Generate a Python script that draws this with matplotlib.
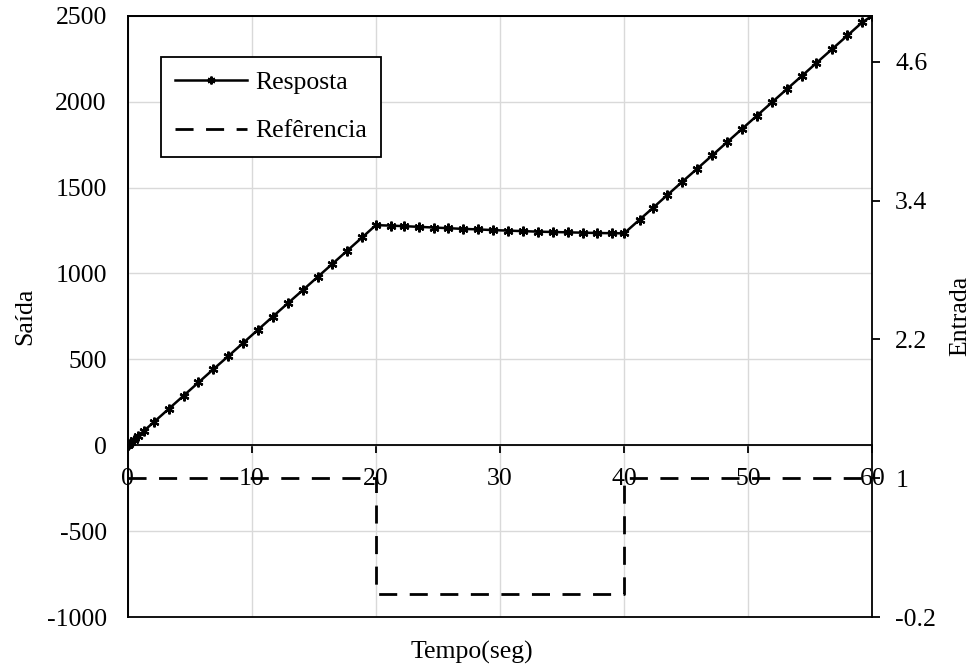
import matplotlib
matplotlib.use("Agg")
import matplotlib.pyplot as plt
from matplotlib.ticker import FuncFormatter

plt.rcParams['font.family'] = ['Liberation Serif', 'DejaVu Serif']
plt.rcParams['font.size'] = 18.5
plt.rcParams['axes.unicode_minus'] = False

# response (left axis)
t_resp = [0, 0.03, 0.1, 0.25, 0.5, 0.8, 1.3, 2.1, 3.3, 4.5, 5.7, 6.9, 8.1, 9.3,
          10.5, 11.7, 12.9, 14.1, 15.3, 16.5, 17.7, 18.9,
          20.0, 21.2, 22.25, 23.45, 24.65, 25.85, 27.05, 28.25, 29.45, 30.65,
          31.85, 33.05, 34.25, 35.45, 36.65, 37.85, 39.05,
          40.0, 41.25, 42.35, 43.45, 44.65, 45.85, 47.1, 48.3, 49.5, 50.7,
          51.9, 53.15, 54.3, 55.5, 56.75, 58.0, 59.2, 60.0]
resposta = [0, 2, 6, 16, 32, 51, 83, 134, 211, 288, 365, 442, 518, 595,
            672, 749, 826, 902, 979, 1056, 1133, 1210,
            1281, 1278, 1275, 1271, 1267, 1263, 1259, 1256, 1252, 1249,
            1246, 1243, 1241, 1239, 1237, 1235, 1234,
            1233, 1313, 1383, 1454, 1531, 1607, 1687, 1764, 1841, 1918,
            1995, 2075, 2148, 2225, 2305, 2385, 2462, 2500]

# reference (right axis)
t_ref = [0, 20, 20, 40, 40, 60]
referencia = [1, 1, 0, 0, 1, 1]

xticks = [0, 10, 20, 30, 40, 50, 60]
yticks_left = [-1000, -500, 0, 500, 1000, 1500, 2000, 2500]
yticks_right = [-0.2, 1, 2.2, 3.4, 4.6]

fig = plt.figure(figsize=(9.76, 6.70), dpi=100)
ax = fig.add_axes([127.7/976, 1-617/670, (872.3-127.7)/976, (617-15.7)/670])
ax2 = ax.twinx()

grid_c = '#d9d9d9'
ax.set_axisbelow(True)
ax.grid(True, color=grid_c, lw=1.0)

ax.plot(t_resp, resposta, color='black', lw=1.8, marker=(6, 2, 0),
        markersize=7, markeredgewidth=1.6, label='Resposta', clip_on=True)
ax2.plot(t_ref, referencia, color='black', lw=2.0, dashes=(6.5, 4.5),
         label='Refêrencia')

ax.set_xlim(0, 60)
ax.set_ylim(-1000, 2500)
ax2.set_ylim(-0.2, 5.0)
ax.set_xticks(xticks)
ax.set_yticks(yticks_left)
ax2.set_yticks(yticks_right)
ax2.yaxis.set_major_formatter(FuncFormatter(lambda v, p: '{:g}'.format(round(v, 2))))

for s in ['left', 'right', 'top', 'bottom']:
    ax.spines[s].set_linewidth(1.3)
    ax2.spines[s].set_linewidth(1.3)
ax.spines['bottom'].set_position(('data', 0))
ax.spines['right'].set_visible(False)

ax.tick_params(axis='x', direction='out', length=5.5, width=1.3, pad=11)
ax.tick_params(axis='y', length=0, pad=15)
ax2.tick_params(axis='y', direction='out', length=5.5, width=1.3, pad=11)

ax.set_ylabel('Saída', va='center')
ax.yaxis.set_label_coords((25 - 127.7) / 744.6, 0.5)
ax2.set_ylabel('Entrada', va='center')
ax2.yaxis.set_label_coords((960 - 127.7) / 744.6, 0.5)
fig.text(472/976, 1-652/670, 'Tempo(seg)', ha='center', va='center')

h1, l1 = ax.get_legend_handles_labels()
h2, l2 = ax2.get_legend_handles_labels()
leg = ax2.legend(h1 + h2, l1 + l2, loc='upper left',
                 bbox_to_anchor=(161/976, 1-56.7/670), bbox_transform=fig.transFigure,
                 fancybox=False, framealpha=1, edgecolor='black',
                 handlelength=2.8, handletextpad=0.3, borderpad=0.55,
                 labelspacing=1.0, markerscale=0.8, borderaxespad=0)
leg.get_frame().set_linewidth(1.3)

fig.savefig('out.png', dpi=100)
